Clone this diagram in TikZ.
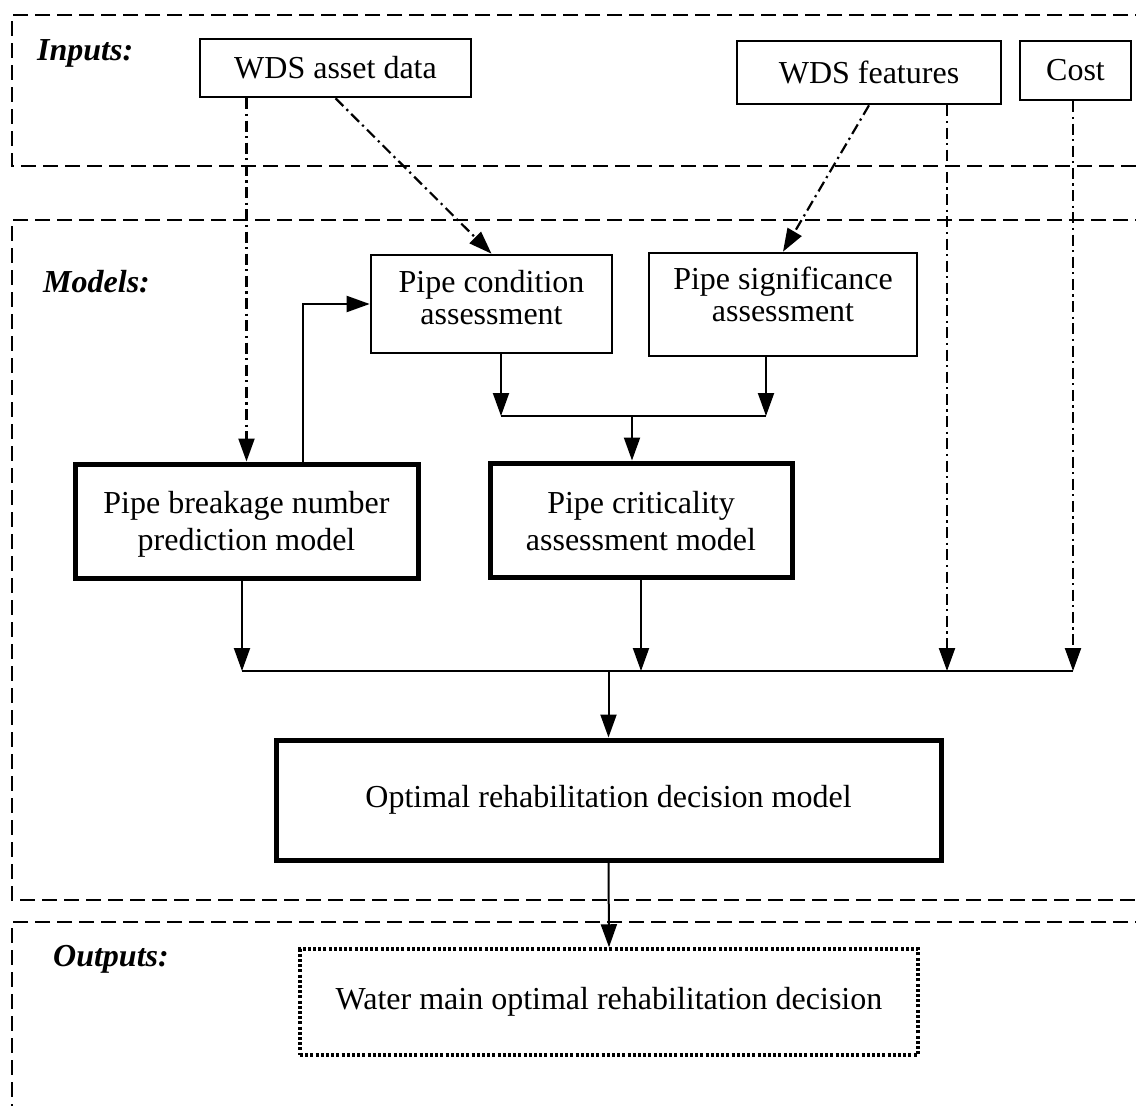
\documentclass[tikz,border=0pt]{standalone}
\usepackage{fontspec}
\setmainfont{Liberation Serif}
\usetikzlibrary{arrows.meta}
\begin{document}
\begin{tikzpicture}[x=1pt,y=-1pt,
  >={Triangle[length=23pt,width=16pt]},
  conn/.style={line width=2pt},
  ddash/.style={line width=2.2pt,dash pattern=on 11pt off 4.5pt on 2.2pt off 4.5pt},
  grp/.style={line width=2.4pt,dash pattern=on 15pt off 7pt},
  thinbox/.style={draw,line width=2.6pt,inner sep=0pt,align=center,font=\fontsize{32}{32}\selectfont},
  thickbox/.style={draw,line width=5pt,inner sep=0pt,align=center,font=\fontsize{32}{37}\selectfont},
  dotbox/.style={draw,line width=3.5pt,dash pattern=on 3pt off 2.2pt,inner sep=0pt,align=center,font=\fontsize{32}{32}\selectfont},
  lbl/.style={anchor=base west,inner sep=0pt,font=\fontsize{32}{32}\selectfont\bfseries\itshape}]
\useasboundingbox (0,0) rectangle (1136,1106);
\clip (0,0) rectangle (1136,1106);

% group frames
\draw[grp] (1150,15) -- (12,15) -- (12,166) -- (1150,166);
\draw[grp] (1150,220) -- (12,220) -- (12,900) -- (1150,900);
\draw[grp] (1150,922) -- (12,922) -- (12,1130);

% labels
\node[lbl] (lin) at (37,60) {Inputs:};
\node[lbl] (lmod) at (43,292) {Models:};
\node[lbl] (lout) at (53,966) {Outputs:};

% inputs
\node[thinbox,minimum width=271pt,minimum height=58pt] (asset) at (335.5,68) {WDS asset data};
\node[thinbox,minimum width=264pt,minimum height=63pt] (feat) at (869,72.5) {WDS features};
\node[thinbox,minimum width=111pt,minimum height=59pt] (cost) at (1075.5,70.5) {Cost};

% models
\node[thinbox,minimum width=241pt,minimum height=98pt,text height=54pt,text depth=14pt] (cond) at (491.5,304) {Pipe condition\\assessment};
\node[thinbox,minimum width=268pt,minimum height=103pt,text height=54pt,text depth=21pt] (sig) at (783,304.5) {Pipe significance\\assessment};
\node[thickbox,minimum width=343pt,minimum height=114pt,text height=59pt,text depth=1pt] (brk) at (246.5,521) {Pipe breakage number\\prediction model};
\node[thickbox,minimum width=302pt,minimum height=114pt,text height=60pt,text depth=0pt] (crit) at (641,520) {Pipe criticality\\assessment model};
\node[thickbox,minimum width=665pt,minimum height=120pt] (opt) at (608.5,800) {Optimal rehabilitation decision model};

% output
\node[dotbox,minimum width=618pt,minimum height=106pt] (out) at (609,1002) {Water main optimal rehabilitation decision};

\coordinate (j1) at (632,416);
\coordinate (j2) at (608.5,671);

% dash-dot inputs
\draw[ddash,->] (asset.south -| brk.north) -- (brk.north);
\draw[ddash,->] (asset.south) -- (cond.north);
\draw[ddash,->] (feat.south) -- (sig.north);
\draw[ddash,->] ([xshift=78pt]feat.south) -- ([xshift=78pt]feat.south |- j2);
\draw[ddash,->] ([xshift=-2.5pt]cost.south) -- ([xshift=-2.5pt]cost.south |- j2);

% solid connectors
\draw[conn,->] ([xshift=56.5pt]brk.north) |- (cond.west);
\draw[conn,->] ([xshift=9.5pt]cond.south) -- ([xshift=9.5pt]cond.south |- j1);
\draw[conn,->] ([xshift=-17pt]sig.south) -- ([xshift=-17pt]sig.south |- j1);
\draw[conn] ([xshift=9.5pt]cond.south |- j1) -- ([xshift=-17pt]sig.south |- j1);
\draw[conn,->] (j1) -- (j1 |- crit.north);
\draw[conn,->] ([xshift=-4.5pt]brk.south) -- ([xshift=-4.5pt]brk.south |- j2);
\draw[conn,->] (crit.south) -- (crit.south |- j2);
\draw[conn] ([xshift=-4.5pt]brk.south |- j2) -- ([xshift=-2.5pt]cost.south |- j2);
\draw[conn,->] (j2) -- (opt.north);
\draw[conn,->] (opt.south) -- (out.north);
\end{tikzpicture}
\end{document}
